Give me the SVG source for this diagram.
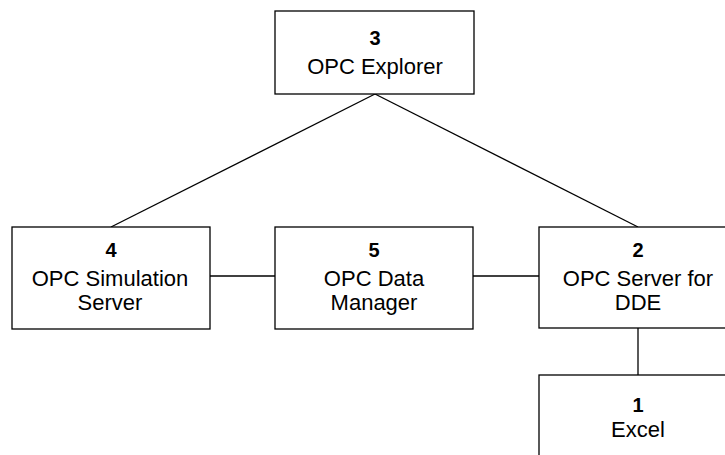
<svg xmlns="http://www.w3.org/2000/svg" width="725" height="455" viewBox="0 0 725 455">
<style>
.b{fill:#fff;stroke:#000;stroke-width:1.3}
line{stroke:#000;stroke-width:1.3}
text{font-family:"Liberation Sans",Arial,sans-serif;font-size:22px;text-anchor:middle;fill:#000}
.n{font-weight:bold;font-size:20px}
</style>
<rect width="725" height="455" fill="#fff"/>
<g id="connectors">
<line x1="375" y1="94" x2="111" y2="227"/>
<line x1="375" y1="94" x2="638" y2="227"/>
<line x1="210" y1="276" x2="275" y2="276"/>
<line x1="473" y1="276" x2="539" y2="276"/>
<line x1="638" y1="328" x2="638" y2="375"/>
</g>
<g id="node3">
<rect class="b" x="275" y="11" width="199" height="83"/>
<text class="n" x="375" y="45">3</text>
<text x="375" y="74">OPC Explorer</text>
</g>
<g id="node4">
<rect class="b" x="12" y="227" width="198" height="102"/>
<text class="n" x="111" y="257">4</text>
<text x="110" y="286">OPC Simulation</text>
<text x="110" y="310">Server</text>
</g>
<g id="node5">
<rect class="b" x="275" y="227" width="198" height="102"/>
<text class="n" x="374" y="257">5</text>
<text x="374" y="286">OPC Data</text>
<text x="374" y="310">Manager</text>
</g>
<g id="node2">
<rect class="b" x="539" y="227" width="198" height="101"/>
<text class="n" x="638" y="257">2</text>
<text x="638" y="286">OPC Server for</text>
<text x="638" y="310">DDE</text>
</g>
<g id="node1">
<rect class="b" x="539" y="375" width="198" height="102"/>
<text class="n" x="638" y="412">1</text>
<text x="638" y="437">Excel</text>
</g>
</svg>
